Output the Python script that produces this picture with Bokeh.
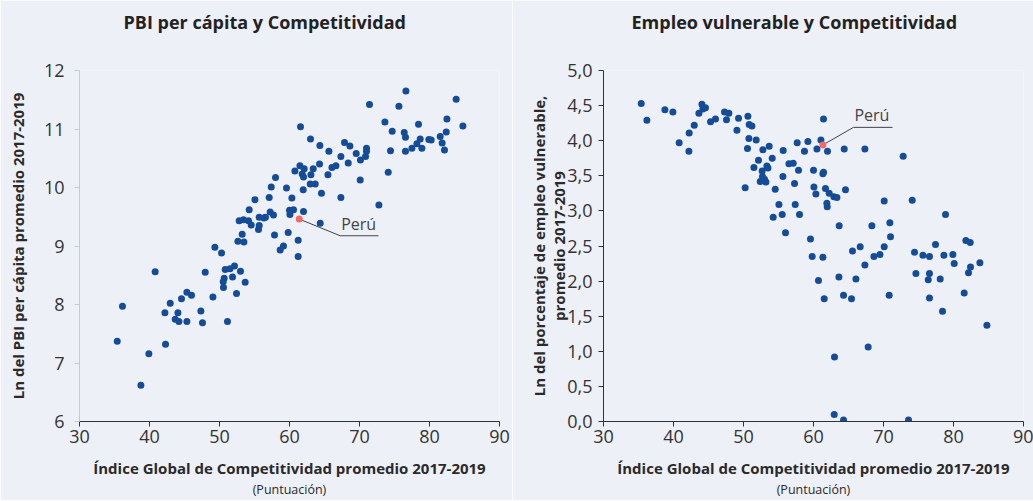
from bokeh.plotting import figure
from bokeh.layouts import row
from bokeh.models import Range1d, FixedTicker, LinearAxis, Title
from bokeh.embed import file_html
from bokeh.resources import INLINE
from bokeh.core.properties import value

# ---------------- data ----------------
x_ticks = [30, 40, 50, 60, 70, 80, 90]
pbi_ticks = [6, 7, 8, 9, 10, 11, 12]
emp_ticks = [0.0, 0.5, 1.0, 1.5, 2.0, 2.5, 3.0, 3.5, 4.0, 4.5, 5.0]
emp_tick_labels = ["0,0", "0,5", "1,0", "1,5", "2,0", "2,5", "3,0", "3,5", "4,0", "4,5", "5,0"]

pbi_x = [58.0, 57.39, 55.06, 57.1, 54.24, 57.24, 57.71, 52.81, 53.43, 54.14, 54.53, 55.67, 56.34, 56.57, 55.67, 55.57, 53.24, 57.86, 59.81,
         52.63, 53.49, 49.34, 50.29, 58.67, 59.14, 61.24, 61.24, 40.81, 47.96, 50.81, 51.49, 52.14, 53.0, 50.67, 50.53, 51.86, 53.67, 50.57, 52.43,
         49.06, 45.34, 46.0, 44.57, 42.96, 36.14, 42.2, 44.06, 43.67, 44.2, 45.34, 47.34, 47.57, 51.14, 35.39, 42.29, 39.91, 38.77,
         76.63, 83.81, 71.43, 75.63, 84.77, 61.57, 73.63, 78.43, 82.49, 74.67, 76.39, 76.57, 82.39, 81.53, 81.81, 82.14, 78.67, 79.91, 80.24, 78.2,
         77.49, 78.91, 74.43, 76.57, 63.0, 64.34, 67.86, 68.63, 65.63, 71.0, 71.0, 69.53, 70.86, 70.14, 67.34, 68.39, 64.29, 66.63, 66.06, 61.49,
         62.1, 60.77, 61.81, 62.0, 63.06, 63.39, 65.49, 74.1, 70.1, 59.57, 62.96, 63.67, 61.96, 64.57, 60.34, 67.34, 72.77, 60.0, 60.57, 62.0,
         60.06, 64.39]
pbi_y = [10.17, 10.01, 9.79, 9.83, 9.62, 9.58, 9.53, 9.43, 9.45, 9.43, 9.36, 9.49, 9.48, 9.49, 9.35, 9.28, 9.20, 9.19, 9.23,
         9.08, 9.07, 8.98, 8.88, 8.93, 9.00, 9.10, 8.82, 8.56, 8.55, 8.60, 8.61, 8.66, 8.57, 8.45, 8.39, 8.47, 8.38, 8.29, 8.19,
         8.13, 8.21, 8.16, 8.10, 8.02, 7.97, 7.86, 7.86, 7.75, 7.71, 7.71, 7.89, 7.69, 7.71, 7.37, 7.32, 7.16, 6.62,
         11.65, 11.51, 11.42, 11.39, 11.05, 11.04, 11.12, 11.08, 11.17, 10.96, 10.94, 10.86, 10.95, 10.87, 10.76, 10.64, 10.83, 10.82, 10.81, 10.75,
         10.67, 10.67, 10.63, 10.62, 10.83, 10.72, 10.77, 10.71, 10.62, 10.67, 10.62, 10.58, 10.53, 10.47, 10.53, 10.42, 10.40, 10.37, 10.34, 10.37,
         10.32, 10.28, 10.23, 10.18, 10.22, 10.32, 10.22, 10.26, 10.13, 9.99, 10.06, 10.06, 9.96, 9.90, 9.82, 9.83, 9.70, 9.61, 9.62, 9.59,
         9.54, 9.39]

emp_x = [35.39, 36.2, 38.77, 39.91, 44.06, 44.57, 44.2, 43.63, 42.96, 42.24, 40.81, 42.2, 45.29, 46.0, 47.29, 47.91, 47.57, 49.29, 50.63, 50.81,
         51.2, 49.06, 50.77, 51.81, 50.57, 52.77, 53.67, 55.67, 57.67, 52.14, 54.1, 51.49, 52.67, 53.34, 53.49, 52.71, 53.0, 52.39, 53.2, 56.49,
         57.1, 57.86, 55.63, 50.24, 54.53, 57.29, 55.06, 57.39, 54.24, 55.53, 58.0, 56.0,
         61.43, 59.2, 61.06, 58.71, 60.49, 62.0, 64.39, 67.34, 72.81, 60.0, 61.34, 61.43, 60.06, 60.34, 61.71, 62.24, 62.91, 63.34, 61.91, 61.96,
         64.57, 70.1, 74.1, 63.67, 68.34, 70.91, 78.86, 59.57, 71.0, 70.1, 66.67, 65.57, 77.43, 81.77, 82.39, 59.81, 61.34, 68.63, 69.49, 74.43,
         75.63, 76.57, 78.63, 79.91,
         80.1, 82.43, 82.14, 83.77, 67.34, 60.71, 63.63, 66.06, 61.53, 64.29, 65.43, 70.81, 74.63, 76.57, 76.39, 78.1, 76.57, 81.53, 78.43, 84.77,
         67.81, 63.0, 62.96, 64.29, 73.57]
emp_y = [4.53, 4.29, 4.44, 4.41, 4.52, 4.47, 4.45, 4.39, 4.22, 4.11, 3.97, 3.85, 4.27, 4.31, 4.41, 4.39, 4.30, 4.32, 4.35, 4.23,
         4.21, 4.15, 4.03, 4.01, 3.89, 3.87, 3.92, 3.86, 3.97, 3.72, 3.75, 3.62, 3.57, 3.64, 3.61, 3.49, 3.45, 3.42, 3.41, 3.67,
         3.68, 3.58, 3.49, 3.33, 3.31, 3.39, 3.09, 3.09, 2.91, 2.95, 2.95, 2.69,
         4.31, 3.99, 4.01, 3.85, 3.88, 3.85, 3.88, 3.88, 3.78, 3.58, 3.53, 3.55, 3.34, 3.24, 3.32, 3.25, 3.20, 3.19, 3.11, 3.06,
         3.30, 3.14, 3.15, 2.79, 2.79, 2.83, 2.95, 2.60, 2.63, 2.49, 2.49, 2.43, 2.52, 2.58, 2.55, 2.35, 2.34, 2.35, 2.38, 2.41,
         2.37, 2.35, 2.37, 2.38,
         2.25, 2.20, 2.12, 2.26, 2.23, 2.01, 2.06, 2.03, 1.75, 1.80, 1.75, 1.80, 2.11, 2.11, 2.02, 2.03, 1.76, 1.83, 1.57, 1.37,
         1.06, 0.92, 0.10, 0.02, 0.02]

peru_pbi = [61.39, 9.46]
peru_emp = [61.34, 3.94]

# label leader lines (elbow x, elbow y, underline end x) in data units
peru_pbi_leader = [67.24, 9.175, 72.71]
peru_emp_leader = [65.71, 4.19, 71.29]

# ---------------- style ----------------
BG = "#EEF0F8"
BLUE = "#154C97"
RED = "#F26B6B"
TXT = "#333333"
FONT = "Open Sans"


def style_axis(ax, line_color=TXT):
    ax.axis_line_color = line_color
    ax.major_tick_line_color = line_color
    ax.minor_tick_line_color = None
    ax.major_tick_in = 0
    ax.major_tick_out = 5
    ax.major_label_text_font = FONT
    ax.major_label_text_font_size = "18px"
    ax.major_label_text_color = TXT
    ax.axis_label_text_font = FONT
    ax.axis_label_text_font_style = "bold"
    ax.axis_label_text_font_size = "15px"
    ax.axis_label_text_color = "#2a2a2a"


def label_axis(text, size, style, standoff):
    ax = LinearAxis(ticker=FixedTicker(ticks=[]), axis_label=text)
    ax.axis_line_color = None
    ax.major_tick_line_color = None
    ax.minor_tick_line_color = None
    ax.major_tick_in = 0
    ax.major_tick_out = 0
    ax.major_label_standoff = 0
    ax.axis_label_standoff = standoff
    ax.axis_label_text_font = FONT
    ax.axis_label_text_font_style = style
    ax.axis_label_text_font_size = size
    ax.axis_label_text_color = "#2a2a2a"
    return ax


def spacer_axis(height):
    # invisible axis: one tick drawn in the border colour reserves vertical space
    ax = LinearAxis(ticker=FixedTicker(ticks=[x_ticks[0]]))
    ax.axis_line_color = None
    ax.major_tick_line_color = BG
    ax.minor_tick_line_color = None
    ax.major_tick_in = 0
    ax.major_tick_out = height
    ax.major_label_standoff = 0
    ax.major_label_overrides = {x_ticks[0]: ""}
    ax.major_label_text_font_size = "1px"
    return ax


def make_fig(title, y_range, width, left, right, title_offset):
    p = figure(width=width, height=500, x_range=Range1d(30, 90), y_range=Range1d(*y_range),
               output_backend="svg", toolbar_location=None, title=None,
               min_border_left=left, min_border_right=right, min_border_top=70, min_border_bottom=78,
               background_fill_color=BG, border_fill_color=BG, outline_line_color=None)
    p.grid.visible = False
    xa = p.below[0]
    style_axis(xa)
    xa.ticker = FixedTicker(ticks=x_ticks)
    xa.axis_label = "Índice Global de Competitividad promedio 2017-2019"
    xa.major_label_standoff = 3
    xa.axis_label_standoff = 12
    p.add_layout(label_axis("(Puntuación)", "12.5px", "normal", 0), "below")
    # empty spacer between frame and title, then the title itself
    p.add_layout(spacer_axis(35), "above")
    p.add_layout(Title(text=title, align="left", offset=title_offset, text_font=FONT,
                       text_font_style="bold", text_font_size="18px", text_color="#222222",
                       standoff=4), "above")
    return p


def add_peru(p, pt, leader):
    p.line(x=[pt[0], leader[0], leader[2]], y=[pt[1], leader[1], leader[1]], line_color="#444444", line_width=1)
    p.text(x=[leader[0]], y=[leader[1]], text=["Perú"], text_font=value(FONT), text_font_size="16px",
           text_color="#444444", text_baseline="bottom", text_align="left", x_offset=1, y_offset=-1)
    p.scatter(x=[pt[0]], y=[pt[1]], size=7, fill_color=RED, line_color=None)


# ---- left panel ----
p1 = make_fig("PBI per cápita y Competitividad", (6, 12), 512, 79, 13, 44)
ya1 = p1.left[0]
style_axis(ya1, line_color="#C8CAD4")
ya1.ticker = FixedTicker(ticks=pbi_ticks)
ya1.major_label_standoff = 10
ya1.axis_label = "Ln del PBI per cápita promedio 2017-2019"
ya1.axis_label_standoff = 13
p1.scatter(x=pbi_x, y=pbi_y, size=7, fill_color=BLUE, line_color=None)
add_peru(p1, peru_pbi, peru_pbi_leader)

# ---- right panel ----
p2 = make_fig("Empleo vulnerable y Competitividad", (0, 5), 521, 91, 10, 28)
ya2 = p2.left[0]
style_axis(ya2)
ya2.ticker = FixedTicker(ticks=emp_ticks)
ya2.major_label_overrides = dict(zip(emp_ticks, emp_tick_labels))
ya2.major_label_standoff = 6
ya2.axis_label = "promedio 2017-2019"
ya2.axis_label_standoff = -5
p2.add_layout(label_axis("Ln del porcentaje de empleo vulnerable,", "15px", "bold", -2), "left")
p2.scatter(x=emp_x, y=emp_y, size=7, fill_color=BLUE, line_color=None)
add_peru(p2, peru_emp, peru_emp_leader)

layout = row(p1, p2)
open("out.html", "w").write(file_html(layout, INLINE))
